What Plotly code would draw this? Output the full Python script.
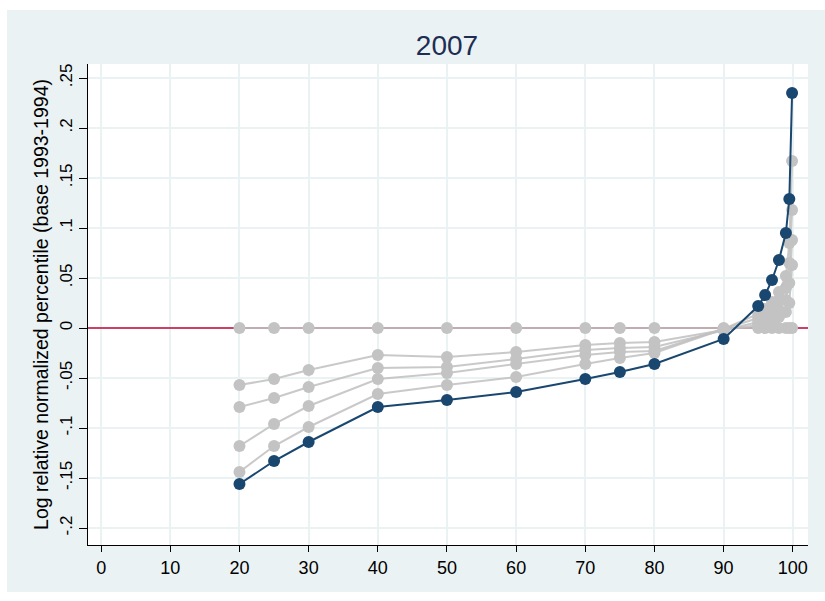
import plotly.graph_objects as go

percentiles = [20, 25, 30, 40, 50, 60, 70, 75, 80, 90, 95, 96, 97, 98, 99, 99.5, 99.9]

grey_series = [
    [0, 0, 0, 0, 0, 0, 0, 0, 0, 0, 0, 0, 0, 0, 0, 0, 0],
    [-0.057, -0.051, -0.042, -0.027, -0.029, -0.024, -0.017, -0.015, -0.014, -0.002,
     0.003, 0.005, 0.008, 0.011, 0.016, 0.025, 0.063],
    [-0.079, -0.070, -0.059, -0.040, -0.039, -0.031, -0.022, -0.020, -0.019, -0.002,
     0.006, 0.009, 0.013, 0.018, 0.028, 0.045, 0.088],
    [-0.118, -0.096, -0.078, -0.051, -0.045, -0.036, -0.027, -0.024, -0.023, -0.001,
     0.010, 0.015, 0.020, 0.028, 0.040, 0.065, 0.118],
    [-0.144, -0.118, -0.099, -0.066, -0.057, -0.049, -0.036, -0.030, -0.025, -0.001,
     0.014, 0.019, 0.026, 0.036, 0.052, 0.085, 0.167],
]

series_2007 = [-0.156, -0.133, -0.114, -0.079, -0.072, -0.064, -0.051, -0.044, -0.036, -0.011,
               0.022, 0.033, 0.048, 0.068, 0.095, 0.129, 0.235]

x_ticks = [0, 10, 20, 30, 40, 50, 60, 70, 80, 90, 100]
y_tickvals = [-0.2, -0.15, -0.1, -0.05, 0, 0.05, 0.1, 0.15, 0.2, 0.25]
y_ticktext = ["-.2", "-.15", "-.1", "-.05", "0", ".05", ".1", ".15", ".2", ".25"]

x_range = [-1.9, 102.2]
y_range = [-0.217, 0.264]
ref_y = 0

title_text = "2007"
y_title = "Log relative normalized percentile (base 1993-1994)"

BG = "#EAF2F3"
GRID = "#EAF2F3"
GREY = "rgba(192,192,192,0.85)"
BLUE = "#1A476F"
RED = "#C10534"
FONT = "Liberation Sans, Arial, Helvetica"

fig = go.Figure()

# reference line at zero (drawn first so the series sit on top)
fig.add_trace(go.Scatter(
    x=x_range, y=[ref_y, ref_y], mode="lines",
    line=dict(color=RED, width=1.5), showlegend=False, hoverinfo="skip"))

for ys in grey_series:
    fig.add_trace(go.Scatter(
        x=percentiles, y=ys, mode="lines+markers",
        line=dict(color=GREY, width=2),
        marker=dict(color="#C3C3C3", size=12),
        showlegend=False, hoverinfo="skip"))

fig.add_trace(go.Scatter(
    x=percentiles, y=series_2007, mode="lines+markers",
    line=dict(color=BLUE, width=2),
    marker=dict(color=BLUE, size=12),
    showlegend=False))

L, R, T, B = 88, 17, 64, 56
W, H = 825, 601
pw, ph = W - L - R, H - T - B


def px_x(p):
    return (p - L) / pw


def px_y(p):
    return (H - B - p) / ph


# thin white border around the light panel (drawn in the margins only)
white_strips = [
    (0, 7, 0, H),      # left
    (0, W, 0, 10),     # top
    (0, W, 592, H),    # bottom
]
for x0, x1, y0, y1 in white_strips:
    fig.add_shape(type="rect", xref="paper", yref="paper", layer="above",
                  x0=px_x(x0), x1=px_x(x1), y0=px_y(y1), y1=px_y(y0),
                  fillcolor="white", line=dict(width=0))

fig.update_layout(
    width=W, height=H,
    margin=dict(l=L, r=R, t=T, b=B),
    paper_bgcolor=BG, plot_bgcolor="white",
    title=dict(text=title_text, x=447 / W, xanchor="center",
               y=1 - 45 / H, yanchor="middle",
               font=dict(family=FONT, size=28, color="#1E2D53")),
    font=dict(family=FONT, color="black"),
)

fig.update_xaxes(
    range=x_range, tickvals=x_ticks, ticks="outside", ticklen=6, tickwidth=1,
    tickcolor="black", showline=True, linecolor="black", linewidth=1,
    showgrid=True, gridcolor=GRID, gridwidth=1.5, zeroline=False,
    tickfont=dict(family=FONT, size=18, color="black"),
)
fig.update_yaxes(
    range=y_range, tickvals=y_tickvals, ticktext=y_ticktext, tickangle=-90,
    ticks="outside", ticklen=8, tickwidth=1, tickcolor="black",
    showline=True, linecolor="black", linewidth=1,
    showgrid=True, gridcolor=GRID, gridwidth=1.5, zeroline=False,
    tickfont=dict(family=FONT, size=17, color="black"),
    title=dict(text=y_title, font=dict(family=FONT, size=19.5, color="black"), standoff=3),
)

fig.write_html("out.html", config={"displayModeBar": False},
               post_script="document.body.style.margin='0';")
